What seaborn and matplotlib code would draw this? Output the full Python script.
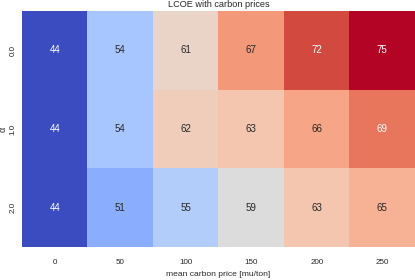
import numpy as np
import pandas as pd
import matplotlib
matplotlib.use('Agg')
import matplotlib.pyplot as plt
import seaborn as sns

sns.set_style('white')
plt.rcParams['font.family'] = ['Liberation Sans', 'DejaVu Sans']

carbon_prices = [0, 50, 100, 150, 200, 250]
alphas = ['0.0', '1.0', '2.0']
# annotated values are rounded, underlying values estimated from cell colours
lcoe_alpha_0 = [44.0, 54.0, 61.0, 67.0, 72.0, 74.6]
lcoe_alpha_1 = [44.0, 54.0, 62.0, 63.0, 66.0, 69.4]
lcoe_alpha_2 = [44.0, 51.49, 55.0, 59.4, 63.0, 65.0]

lcoe_df = pd.DataFrame(
    [lcoe_alpha_0, lcoe_alpha_1, lcoe_alpha_2],
    index=alphas,
    columns=carbon_prices
)

fig, ax = plt.subplots(figsize=(4.15, 2.8), dpi=100)
sns.heatmap(lcoe_df, annot=True, fmt='.0f', cmap='coolwarm', cbar=False,
            ax=ax, annot_kws={'fontsize': 7})
ax.set_title('LCOE with carbon prices', fontsize=6.6, pad=3)
ax.set_xlabel('mean carbon price [mu/ton]', fontsize=6.1, labelpad=3)
ax.set_ylabel('α', fontsize=6.5, labelpad=1)
ax.tick_params(axis='both', labelsize=5.8, length=0, pad=9)
ax.tick_params(axis='y', pad=4)
plt.setp(ax.get_yticklabels(), rotation=90, va='center')
fig.subplots_adjust(left=0.053, right=1.0, top=0.96, bottom=0.118)
fig.savefig('out.png', dpi=100)
